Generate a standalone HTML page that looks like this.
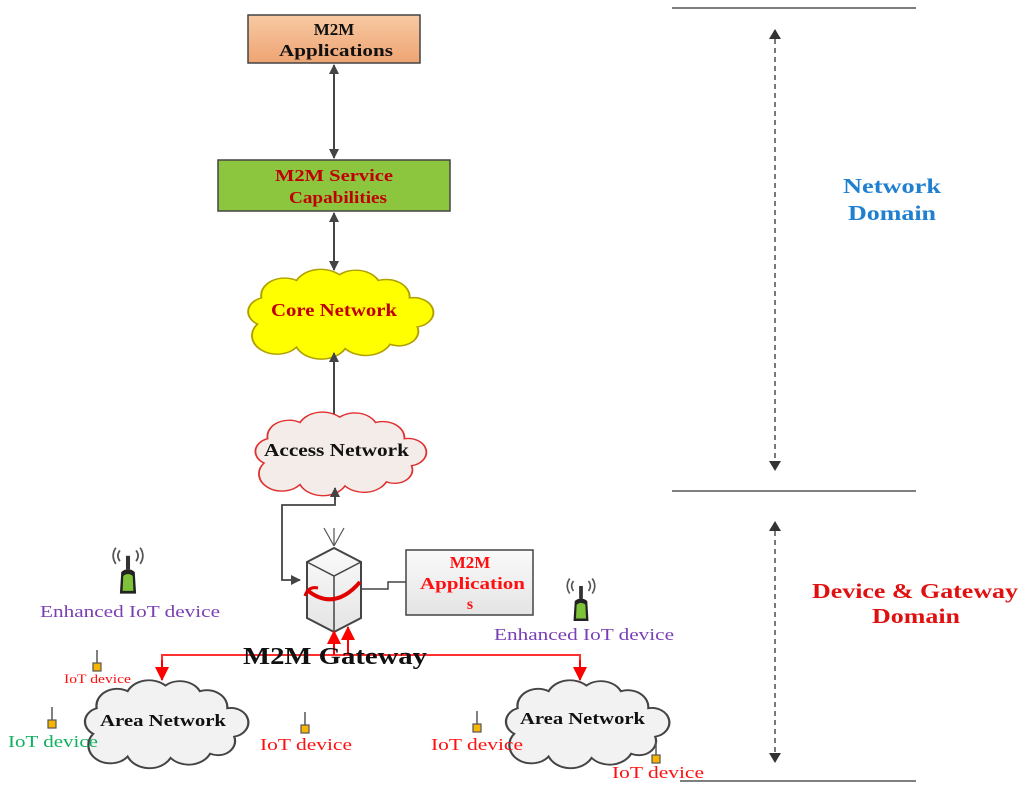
<!DOCTYPE html>
<html><head><meta charset="utf-8"><style>
html,body{margin:0;padding:0;background:#fff}
svg{display:block}
text{font-family:"Liberation Serif",serif}
</style></head><body>
<svg width="1024" height="787" viewBox="0 0 1024 787" xmlns="http://www.w3.org/2000/svg">
<defs>
<path id="cl" d="M10,40 A10,10 0 0 1 12,22 A12,12 0 0 1 30,10 A14,14 0 0 1 52,6 A13,13 0 0 1 72,10 A12,12 0 0 1 88,22 A10,10 0 0 1 92,42 A10,10 0 0 1 78,54 A14,14 0 0 1 55,57 A14,14 0 0 1 30,56 A12,12 0 0 1 10,40 Z"/>
<marker id="ag" markerWidth="10" markerHeight="10" refX="9" refY="5" orient="auto-start-reverse" markerUnits="userSpaceOnUse"><path d="M0,0 L10,5 L0,10 Z" fill="#444"/></marker>
<marker id="ar" markerWidth="14" markerHeight="14" refX="13" refY="7" orient="auto" markerUnits="userSpaceOnUse"><path d="M0,0 L14,7 L0,14 Z" fill="#f00"/></marker>
<marker id="ad" markerWidth="10" markerHeight="12" refX="9" refY="6" orient="auto-start-reverse" markerUnits="userSpaceOnUse"><path d="M0,0 L10,6 L0,12 Z" fill="#333"/></marker>
<linearGradient id="og" x1="0" y1="0" x2="0" y2="1"><stop offset="0" stop-color="#f8c9a2"/><stop offset="1" stop-color="#eea473"/></linearGradient>
<linearGradient id="gy" x1="0" y1="0" x2="0" y2="1"><stop offset="0" stop-color="#fafafa"/><stop offset="1" stop-color="#e4e4e4"/></linearGradient>
<g id="dev"><line x1="0" y1="-14" x2="0" y2="0" stroke="#555" stroke-width="1.5"/><rect x="-4" y="-1" width="8" height="8" fill="#f7b500" stroke="#555" stroke-width="1.2"/></g>
<g id="edev"><path d="M-6,-8 Q-9,-12 -6,-16 M6,-8 Q9,-12 6,-16 M-9,-6 Q-13,-12 -9,-18 M9,-6 Q13,-12 9,-18" stroke="#555" fill="none" stroke-width="1.3"/><rect x="-1.5" y="-12" width="3" height="10" fill="#333"/><path d="M-6,16 L-5,0 Q0,-4 5,0 L6,16 Z" fill="#222"/><path d="M-4,14 L-3.5,3 Q0,0 3.5,3 L4,14 Z" fill="#7ec23a"/></g>
</defs>

<line x1="672" y1="8" x2="916" y2="8" stroke="#333" stroke-width="1.3"/>
<line x1="672" y1="491" x2="916" y2="491" stroke="#333" stroke-width="1.3"/>
<line x1="680" y1="781" x2="916" y2="781" stroke="#333" stroke-width="1.3"/>
<line x1="775" y1="30" x2="775" y2="470" stroke="#333" stroke-width="1.3" stroke-dasharray="5,4" marker-start="url(#ad)" marker-end="url(#ad)"/>
<line x1="775" y1="522" x2="775" y2="762" stroke="#333" stroke-width="1.3" stroke-dasharray="5,4" marker-start="url(#ad)" marker-end="url(#ad)"/>
<text x="843" y="193" fill="#1f7fd0" font-size="21" font-weight="bold" textLength="98" lengthAdjust="spacingAndGlyphs">Network</text>
<text x="848" y="220" fill="#1f7fd0" font-size="21" font-weight="bold" textLength="88" lengthAdjust="spacingAndGlyphs">Domain</text>
<text x="812" y="598" fill="#e01010" font-size="21" font-weight="bold" textLength="206" lengthAdjust="spacingAndGlyphs">Device &amp; Gateway</text>
<text x="872" y="623" fill="#e01010" font-size="21" font-weight="bold" textLength="88" lengthAdjust="spacingAndGlyphs">Domain</text>

<rect x="248" y="15" width="172" height="48" fill="url(#og)" stroke="#444" stroke-width="1.5"/>
<text x="334" y="35" font-size="17" font-weight="bold" text-anchor="middle" fill="#111">M2M</text>
<text x="279" y="56" font-size="17" font-weight="bold" fill="#111" textLength="114" lengthAdjust="spacingAndGlyphs">Applications</text>
<line x1="334" y1="65" x2="334" y2="158" stroke="#444" stroke-width="2" marker-start="url(#ag)" marker-end="url(#ag)"/>
<rect x="218" y="160" width="232" height="51" fill="#8cc63f" stroke="#444" stroke-width="1.5"/>
<text x="275" y="181" font-size="17" font-weight="bold" fill="#c00000" textLength="118" lengthAdjust="spacingAndGlyphs">M2M Service</text>
<text x="289" y="203" font-size="17" font-weight="bold" fill="#c00000" textLength="98" lengthAdjust="spacingAndGlyphs">Capabilities</text>
<line x1="334" y1="213" x2="334" y2="270" stroke="#444" stroke-width="2" marker-start="url(#ag)" marker-end="url(#ag)"/>

<g transform="translate(238,266) scale(1.95,1.45)"><use href="#cl" fill="#ffff00" stroke="#b0a000" stroke-width="1" vector-effect="non-scaling-stroke"/></g>
<text x="271" y="316" font-size="18" font-weight="bold" fill="#c00000" textLength="126" lengthAdjust="spacingAndGlyphs">Core Network</text>
<line x1="334" y1="415" x2="334" y2="353" stroke="#444" stroke-width="2" marker-end="url(#ag)"/>

<g transform="translate(246,409) scale(1.8,1.35)"><use href="#cl" fill="#f3ece8" stroke="#e03030" stroke-width="1" vector-effect="non-scaling-stroke"/></g>
<text x="264" y="456" font-size="18" font-weight="bold" fill="#111" textLength="145" lengthAdjust="spacingAndGlyphs">Access Network</text>

<polyline points="335,488 335,505 282,505 282,580 300,580" fill="none" stroke="#444" stroke-width="1.8" marker-end="url(#ag)"/>
<path d="M335,500 L335,488" stroke="#444" stroke-width="1.8" marker-end="url(#ag)"/>

<path d="M324,528 L334,546 M344,528 L334,546 M334,528 L334,546" stroke="#555" stroke-width="1.2"/>
<path d="M307,562 L334,548 L361,562 L361,618 L334,632 L307,618 Z" fill="url(#gy)" stroke="#444" stroke-width="2"/>
<path d="M307,562 L334,576 L361,562 M334,576 L334,632" fill="none" stroke="#444" stroke-width="1.5"/>
<path d="M307,590 Q334,612 360,582" fill="none" stroke="#e00000" stroke-width="4"/>
<path d="M305,596 Q308,586 318,588" fill="none" stroke="#e00000" stroke-width="3"/>
<polyline points="362,589 388,589 388,582 406,582" fill="none" stroke="#444" stroke-width="1.5"/>
<rect x="406" y="550" width="127" height="65" fill="url(#gy)" stroke="#444" stroke-width="1.5"/>
<text x="470" y="568" font-size="17" font-weight="bold" text-anchor="middle" fill="#ff1010">M2M</text>
<text x="420" y="589" font-size="17" font-weight="bold" fill="#ff1010" textLength="105" lengthAdjust="spacingAndGlyphs">Application</text>
<text x="470" y="609" font-size="16" font-weight="bold" text-anchor="middle" fill="#ff1010">s</text>

<polyline points="162,680 162,655 580,655 580,680" fill="none" stroke="#ff3030" stroke-width="2"/>
<line x1="162" y1="660" x2="162" y2="680" stroke="#f00" stroke-width="2" marker-end="url(#ar)"/>
<line x1="580" y1="660" x2="580" y2="680" stroke="#f00" stroke-width="2" marker-end="url(#ar)"/>
<line x1="334" y1="655" x2="334" y2="631" stroke="#f00" stroke-width="2" marker-end="url(#ar)"/>
<line x1="348" y1="655" x2="348" y2="627" stroke="#f00" stroke-width="2" marker-end="url(#ar)"/>
<text x="243" y="664" font-size="24" font-weight="bold" fill="#111" textLength="184" lengthAdjust="spacingAndGlyphs">M2M Gateway</text>

<g transform="translate(76,677) scale(1.72,1.42)"><use href="#cl" fill="#f2f2f2" stroke="#444" stroke-width="1.3" vector-effect="non-scaling-stroke"/></g>
<text x="100" y="726" font-size="17" font-weight="bold" fill="#111" textLength="126" lengthAdjust="spacingAndGlyphs">Area Network</text>
<g transform="translate(497,677) scale(1.72,1.42)"><use href="#cl" fill="#f2f2f2" stroke="#444" stroke-width="1.3" vector-effect="non-scaling-stroke"/></g>
<text x="520" y="724" font-size="17" font-weight="bold" fill="#111" textLength="125" lengthAdjust="spacingAndGlyphs">Area Network</text>

<use href="#edev" transform="translate(128,572) scale(1.35)"/>
<text x="40" y="617" font-size="17" fill="#7a3fb5" textLength="180" lengthAdjust="spacingAndGlyphs">Enhanced IoT device</text>
<use href="#edev" transform="translate(581,601) scale(1.25)"/>
<text x="494" y="640" font-size="17" fill="#7a3fb5" textLength="180" lengthAdjust="spacingAndGlyphs">Enhanced IoT device</text>
<use href="#dev" x="97" y="664"/>
<text x="64" y="683" font-size="13" fill="#ff1010" textLength="67" lengthAdjust="spacingAndGlyphs">IoT device</text>
<use href="#dev" x="52" y="721"/>
<text x="8" y="747" font-size="17" fill="#10b060" textLength="90" lengthAdjust="spacingAndGlyphs">IoT device</text>
<use href="#dev" x="305" y="726"/>
<text x="260" y="750" font-size="17" fill="#ff1010" textLength="92" lengthAdjust="spacingAndGlyphs">IoT device</text>
<use href="#dev" x="477" y="725"/>
<text x="431" y="750" font-size="17" fill="#ff1010" textLength="92" lengthAdjust="spacingAndGlyphs">IoT device</text>
<use href="#dev" x="656" y="756"/>
<text x="612" y="778" font-size="17" fill="#ff1010" textLength="92" lengthAdjust="spacingAndGlyphs">IoT device</text>
</svg>
</body></html>
